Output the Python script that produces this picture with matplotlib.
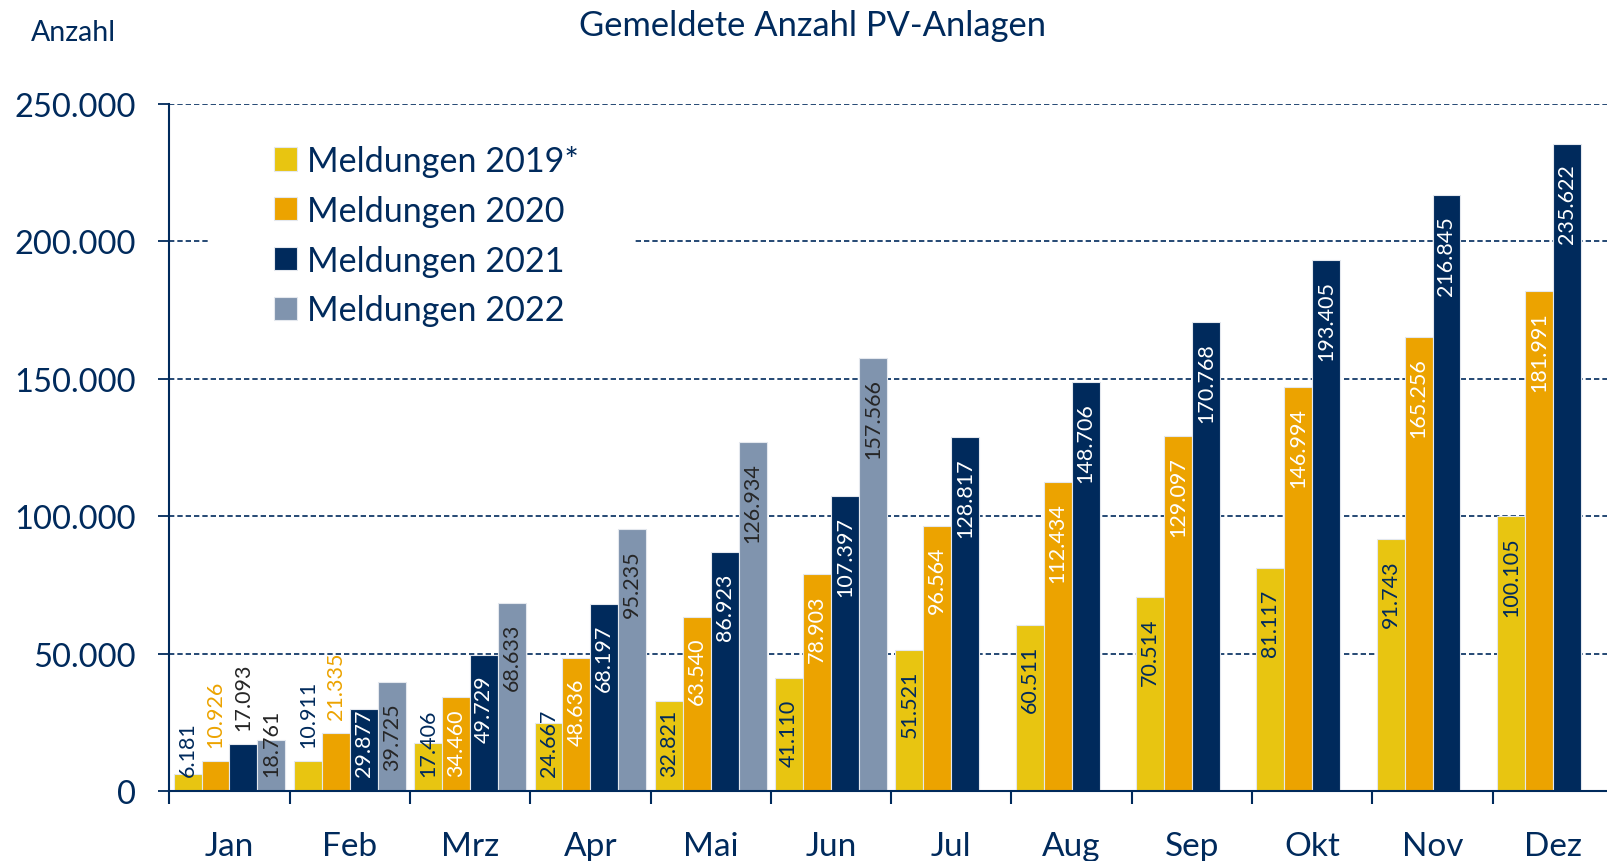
import matplotlib
matplotlib.use("Agg")
import matplotlib.pyplot as plt
import numpy as np
from matplotlib.ticker import FuncFormatter, FixedLocator
from matplotlib.patches import Rectangle

months = ["Jan", "Feb", "Mrz", "Apr", "Mai", "Jun", "Jul", "Aug", "Sep", "Okt", "Nov", "Dez"]
series_names = ["Meldungen 2019*", "Meldungen 2020", "Meldungen 2021", "Meldungen 2022"]
m2019 = [6181, 10911, 17406, 24667, 32821, 41110, 51521, 60511, 70514, 81117, 91743, 100105]
m2020 = [10926, 21335, 34460, 48636, 63540, 78903, 96564, 112434, 129097, 146994, 165256, 181991]
m2021 = [17093, 29877, 49729, 68197, 86923, 107397, 128817, 148706, 170768, 193405, 216845, 235622]
m2022 = [18761, 39725, 68633, 95235, 126934, 157566]
y_ticks = [0, 50000, 100000, 150000, 200000, 250000]

# labels drawn above their bar (series index, month index)
outside_labels = {(1, 0), (2, 0), (0, 1), (1, 1)}

NAVY = "#002A5C"
colors = ["#E8C511", "#ECA300", "#002A5C", "#8094AE"]
inside_text = [NAVY, "white", "white", "#262626"]
outside_text = [NAVY, "#ECA300", "#262626", "#262626"]

plt.rcParams['font.family'] = ['Lato', 'DejaVu Sans']

W, H = 1608, 862
fig = plt.figure(figsize=(W / 100, H / 100), dpi=100)
x0, x1 = 169.3, 1613
yb, yt = 792.3, 105
ax = fig.add_axes([x0 / W, 1 - yb / H, (x1 - x0) / W, (yb - yt) / H])

data = [m2019, m2020, m2021, m2022]
bw = 0.232
x = np.arange(len(months))
ax.set_xlim(-0.5, len(months) - 0.5)
ax.set_ylim(0, 250000)

label_items = []
for i, vals in enumerate(data):
    xs = x[:len(vals)] + (i - 1.5) * bw
    ax.bar(xs, vals, width=bw, color=colors[i], edgecolor="#E4E8EE",
           linewidth=0.8, zorder=2, label=series_names[i])
    for j, (xx, v) in enumerate(zip(xs, vals)):
        txt = f"{v:,}".replace(",", ".")
        if (i, j) in outside_labels:
            ax.annotate(txt, xy=(xx, v), xytext=(0, 10), textcoords="offset points",
                        rotation=90, ha="center", va="bottom", fontsize=15.5,
                        color=outside_text[i], zorder=4)
        else:
            t = ax.annotate(txt, xy=(xx, v), xytext=(0, -14.4), textcoords="offset points",
                            rotation=90, ha="center", va="top", fontsize=15.5,
                            color=inside_text[i], zorder=4)
            label_items.append((t, xx, v))

# grid
ax.set_axisbelow(True)
ax.yaxis.set_major_locator(FixedLocator(y_ticks))
ax.grid(axis="y", color=NAVY, linestyle=(0, (3.2, 1.8)), linewidth=1.2, zorder=0)
ax.yaxis.set_major_formatter(FuncFormatter(lambda v, p: f"{int(v):,}".replace(",", ".")))
ax.tick_params(axis="y", direction="out", length=8, width=1.3, color=NAVY,
               labelsize=23.5, labelcolor=NAVY, pad=16)

ax.set_xticks(x)
ax.set_xticklabels(months)
ax.set_xticks(np.arange(len(months)) - 0.5, minor=True)
ax.tick_params(axis="x", which="major", length=0, labelsize=24, labelcolor=NAVY, pad=28.5)
ax.tick_params(axis="x", which="minor", direction="out", length=9, width=1.5, color=NAVY)

for s in ["top", "right"]:
    ax.spines[s].set_visible(False)
for s in ["left", "bottom"]:
    ax.spines[s].set_color(NAVY)
    ax.spines[s].set_linewidth(1.5)
    ax.spines[s].set_zorder(3)

# white mask behind legend (covers grid line)
ax.add_patch(Rectangle((210 / W, 1 - 335 / H), (633 - 210) / W, (335 - 125) / H,
                       transform=fig.transFigure, facecolor="white", edgecolor="none",
                       zorder=1))

# clamp inside labels that would go below the floor
fig.canvas.draw()
r = fig.canvas.get_renderer()
zero_px = ax.transData.transform((0, 0))[1]
for t, xx, v in label_items:
    bb = t.get_window_extent(r)
    if bb.y0 < zero_px + 15.6:
        t.xy = (xx, 0)
        t.set_position((0, 11.2))
        t.set_va("bottom")

leg = fig.legend(loc="upper left", bbox_to_anchor=(274 / W, 1 - 146 / H),
                 frameon=False, fontsize=24.6, handlelength=0.66, handleheight=0.66,
                 handletextpad=0.3, labelspacing=0.52, borderpad=0, borderaxespad=0)
for txt in leg.get_texts():
    txt.set_color(NAVY)

fig.text(813 / W, 1 - 26 / H, "Gemeldete Anzahl PV-Anlagen", ha="center", va="center",
         fontsize=24.8, color=NAVY)
fig.text(31 / W, 1 - 33 / H, "Anzahl", ha="left", va="center", fontsize=20.5, color=NAVY)

fig.savefig("out.png", dpi=100)
